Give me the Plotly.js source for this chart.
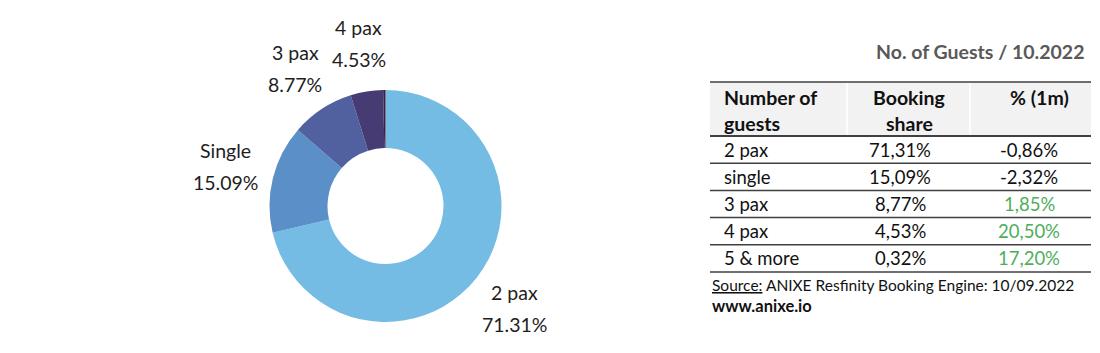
<!DOCTYPE html>
<html>
<head>
<meta charset="utf-8">
<script src="https://cdn.plot.ly/plotly-3.0.1.min.js"></script>
<style>html,body{margin:0;padding:0;background:#fff;} #chart{width:1100px;height:353px;}</style>
</head>
<body>
<div id="chart"></div>
<script>
// ---- data ----
const pieLabels = ['2 pax', 'Single', '3 pax', '4 pax', '5 & more'];
const shares = [71.31, 15.09, 8.77, 4.53, 0.32];
const sliceColors = ['#74BCE4', '#5B8FC7', '#51619F', '#463B72', '#3A1D45'];
const tableLabels = ['2 pax', 'single', '3 pax', '4 pax', '5 & more'];
const change1m = [-0.86, -2.32, 1.85, 20.50, 17.20];
const headers = ['Number of<br>guests', 'Booking<br>share', '% (1m)'];
const chartTitle = 'No. of Guests / 10.2022';
const sourceText = '<u>Source:</u> ANIXE Resfinity Booking Engine: 10/09.2022';
const siteText = '<b>www.anixe.io</b>';

// ---- layout helpers ----
const W = 1100, H = 353;
const px = x => x / W;
const py = y => 1 - y / H;
const fmt = v => v.toFixed(2).replace('.', ',') + '%';

const FONT = 'Lato, "Noto Sans", sans-serif';
const pieCx = 385.5, pieCy = 206, pieR = 116;

const annotations = [];
const shapes = [];

// pie labels placed along the mid-angle of each slice (hide tiny slice)
let cum = 0;
const total = shares.reduce((a, b) => a + b, 0);
shares.forEach((v, i) => {
  const mid = (cum + v / 2) / total * 2 * Math.PI;
  cum += v;
  if (v < 1) return;
  const d = pieR * 1.42;
  const lx = pieCx + d * Math.sin(mid);
  const ly = pieCy - d * Math.cos(mid);
  annotations.push({xref: 'paper', yref: 'paper', x: px(lx), y: py(ly - 16), text: pieLabels[i],
    showarrow: false, xanchor: 'center', yanchor: 'middle', font: {family: FONT, size: 19.5, color: '#1e1e1e'}});
  annotations.push({xref: 'paper', yref: 'paper', x: px(lx), y: py(ly + 16), text: v.toFixed(2) + '%',
    showarrow: false, xanchor: 'center', yanchor: 'middle', font: {family: FONT, size: 19.5, color: '#1e1e1e'}});
});

// table
const tL = 710, tR = 1091, tTop = 82, hBot = 136, rowH = 27.2;
const colSep = [847, 970];
const colX = [722, 900, 1029];
const headX = [722, 909, 1039];

shapes.push({type: 'rect', xref: 'paper', yref: 'paper', x0: px(tL), x1: px(tR), y0: py(tTop), y1: py(hBot),
  fillcolor: '#F2F2F2', line: {width: 0}, layer: 'below'});
colSep.forEach(x => shapes.push({type: 'line', xref: 'paper', yref: 'paper', x0: px(x), x1: px(x),
  y0: py(tTop), y1: py(hBot), line: {color: '#FFFFFF', width: 1.5}, layer: 'below'}));
shapes.push({type: 'line', xref: 'paper', yref: 'paper', x0: px(tL), x1: px(tR), y0: py(tTop), y1: py(tTop),
  line: {color: '#404040', width: 1.3}});
shapes.push({type: 'line', xref: 'paper', yref: 'paper', x0: px(tL), x1: px(tR), y0: py(hBot), y1: py(hBot),
  line: {color: '#404040', width: 2.2}});

headers.forEach((h, j) => {
  const lines = h.split('<br>');
  lines.forEach((t, k) => {
    annotations.push({xref: 'paper', yref: 'paper', x: px(headX[j]), y: py(97 + k * 26), text: '<b>' + t + '</b>',
      showarrow: false, xanchor: j === 0 ? 'left' : 'center', yanchor: 'middle',
      font: {family: FONT, size: 19.5, color: '#111'}});
  });
});

tableLabels.forEach((lab, i) => {
  const yc = hBot + rowH * (i + 0.5);
  const yLine = hBot + rowH * (i + 1);
  shapes.push({type: 'line', xref: 'paper', yref: 'paper', x0: px(tL), x1: px(tR), y0: py(yLine), y1: py(yLine),
    line: {color: '#404040', width: 1.5}});
  const cells = [lab, fmt(shares[i]), fmt(change1m[i])];
  const colors = ['#111', '#111', change1m[i] > 0 ? '#4EAE5B' : '#111'];
  cells.forEach((c, j) => {
    annotations.push({xref: 'paper', yref: 'paper', x: px(colX[j]), y: py(yc), text: c,
      showarrow: false, xanchor: j === 0 ? 'left' : 'center', yanchor: 'middle',
      font: {family: FONT, size: 18.5, color: colors[j]}});
  });
});

annotations.push({xref: 'paper', yref: 'paper', x: px(1086), y: py(52), text: '<b>' + chartTitle + '</b>',
  showarrow: false, xanchor: 'right', yanchor: 'middle', font: {family: FONT, size: 19.5, color: '#595959'}});
annotations.push({xref: 'paper', yref: 'paper', x: px(710), y: py(285), text: sourceText,
  showarrow: false, xanchor: 'left', yanchor: 'middle', font: {family: FONT, size: 15.5, color: '#111'}});
annotations.push({xref: 'paper', yref: 'paper', x: px(710), y: py(306), text: siteText,
  showarrow: false, xanchor: 'left', yanchor: 'middle', font: {family: FONT, size: 16.5, color: '#111'}});

const data = [{
  type: 'pie',
  labels: pieLabels,
  values: shares,
  hole: 0.5,
  sort: false,
  direction: 'clockwise',
  rotation: 0,
  textinfo: 'none',
  hoverinfo: 'label+percent',
  marker: {colors: sliceColors, line: {width: 0}},
  domain: {x: [px(pieCx - pieR), px(pieCx + pieR)], y: [py(pieCy + pieR), py(pieCy - pieR)]},
  showlegend: false
}];

const layout = {
  width: W, height: H,
  margin: {l: 0, r: 0, t: 0, b: 0},
  paper_bgcolor: '#FFFFFF',
  plot_bgcolor: '#FFFFFF',
  showlegend: false,
  annotations: annotations,
  shapes: shapes,
  font: {family: FONT}
};

Plotly.newPlot('chart', data, layout, {displayModeBar: false, staticPlot: true});
</script>
</body>
</html>
